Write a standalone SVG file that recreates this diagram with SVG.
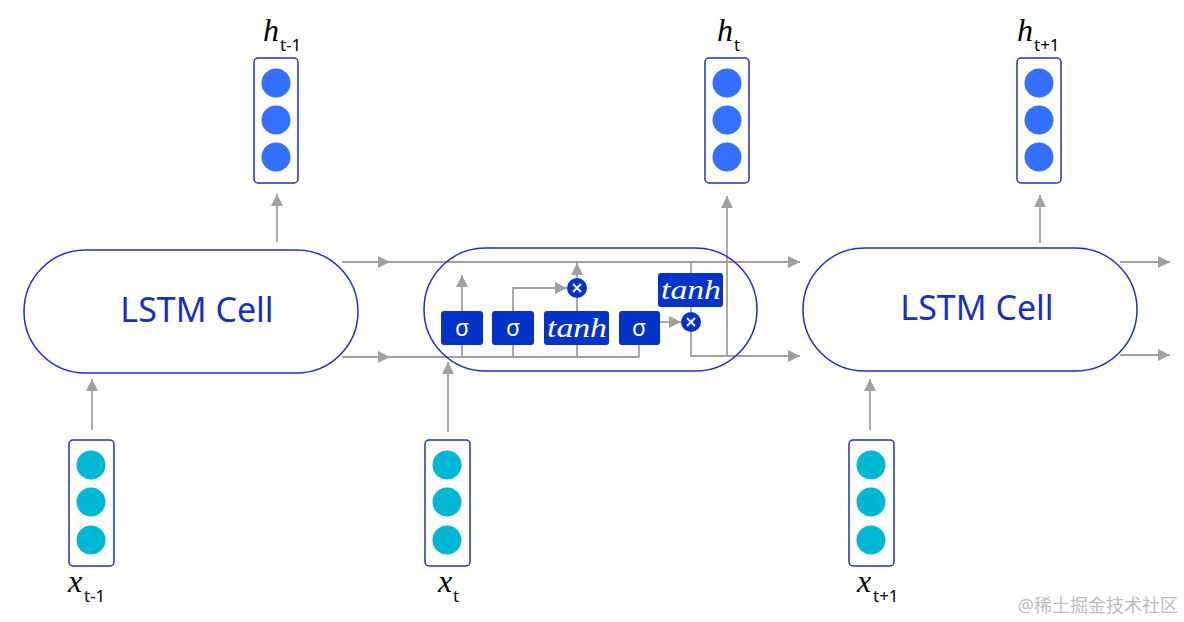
<svg xmlns="http://www.w3.org/2000/svg" width="1184" height="622" viewBox="0 0 1184 622">
<defs>
<marker id="ah" viewBox="0 0 12 12" refX="12" refY="6" markerWidth="12" markerHeight="12" markerUnits="userSpaceOnUse" orient="auto">
<path d="M0,0 L12,6 L0,12 Z" fill="#a0a0a0"/>
</marker>
<style>
.cell{fill:#fff;stroke:#1f2fc4;stroke-width:1.5}
.vec{fill:#fff;stroke:#1f2fc4;stroke-width:1.5}
.hc{fill:#3370ff}
.xc{fill:#00b8d4}
.ln{fill:none;stroke:#a0a0a0;stroke-width:1.8}
.gate{fill:#0433c9}
.sig{font-family:"Noto Sans","DejaVu Sans",sans-serif;font-size:23px;fill:#fff;text-anchor:middle}
.tanh{font-family:"Liberation Serif","DejaVu Serif",serif;font-style:italic;font-size:28px;fill:#fff;text-anchor:middle}
.ct{font-family:"Noto Sans","Open Sans",sans-serif;font-size:34px;fill:#1a2fc0;text-anchor:middle}
.var{font-family:"Liberation Serif","DejaVu Serif",serif;font-style:italic;font-size:32px;fill:#000}
.sub{font-family:"Noto Sans","Open Sans",sans-serif;font-size:17px;fill:#000}
.mul{fill:#0433c9}
.mx{stroke:#fff;stroke-width:1.8}
</style>
</defs>

<g id="connectors">
<path class="ln" d="M342,262 L390,262" marker-end="url(#ah)"/>
<path class="ln" d="M388,262 L800,262" marker-end="url(#ah)"/>
<path class="ln" d="M342,357 L390,357" marker-end="url(#ah)"/>
<path class="ln" d="M388,357 L639,357"/>
<path class="ln" d="M462,357 L462,345 M513,357 L513,345 M577,357 L577,345 M639,357 L639,345"/>
<path class="ln" d="M462,311 L462,275" marker-end="url(#ah)"/>
<path class="ln" d="M513,311 L513,288 L567,288" marker-end="url(#ah)"/>
<path class="ln" d="M577,311 L577,298"/>
<path class="ln" d="M577,278 L577,263" marker-end="url(#ah)"/>
<path class="ln" d="M660,322 L681,322" marker-end="url(#ah)"/>
<path class="ln" d="M691,262 L691,273"/>
<path class="ln" d="M691,307 L691,312"/>
<path class="ln" d="M691,332 L691,356 L800,356" marker-end="url(#ah)"/>
<path class="ln" d="M727,356 L727,196" marker-end="url(#ah)"/>
<path class="ln" d="M448,432 L448,362" marker-end="url(#ah)"/>
<path class="ln" d="M92,430 L92,379" marker-end="url(#ah)"/>
<path class="ln" d="M870,430 L870,379" marker-end="url(#ah)"/>
<path class="ln" d="M277,242 L277,194" marker-end="url(#ah)"/>
<path class="ln" d="M1040,243 L1040,195" marker-end="url(#ah)"/>
<path class="ln" d="M1120,262 L1170,262" marker-end="url(#ah)"/>
<path class="ln" d="M1120,355 L1170,355" marker-end="url(#ah)"/>
</g>

<g id="cell-left">
<rect class="cell" x="24" y="250" width="334" height="123" rx="61.5"/>
<text class="ct" x="197" y="322">LSTM Cell</text>
</g>

<g id="cell-mid">
<rect class="cell" x="424" y="248" width="333" height="123" rx="61.5" style="fill:none"/>
<g id="gate-sig1"><rect class="gate" x="441" y="311" width="42" height="34" rx="3"/><text class="sig" x="462" y="336">σ</text></g>
<g id="gate-sig2"><rect class="gate" x="492" y="311" width="42" height="34" rx="3"/><text class="sig" x="513" y="336">σ</text></g>
<g id="gate-tanh1"><rect class="gate" x="544" y="311" width="65" height="34" rx="3"/><text class="tanh" x="577" y="337" textLength="60" lengthAdjust="spacingAndGlyphs">tanh</text></g>
<g id="gate-sig3"><rect class="gate" x="619" y="311" width="41" height="34" rx="3"/><text class="sig" x="639" y="336">σ</text></g>
<g id="gate-tanh2"><rect class="gate" x="658" y="273" width="65" height="34" rx="3"/><text class="tanh" x="691" y="299" textLength="60" lengthAdjust="spacingAndGlyphs">tanh</text></g>
<g id="mul1"><circle class="mul" cx="577" cy="288" r="10"/><path class="mx" d="M573,284 L581,292 M581,284 L573,292"/></g>
<g id="mul2"><circle class="mul" cx="691" cy="322" r="10"/><path class="mx" d="M687,318 L695,326 M695,318 L687,326"/></g>
</g>

<g id="cell-right">
<rect class="cell" x="803" y="248" width="334" height="123" rx="61.5"/>
<text class="ct" x="977" y="320">LSTM Cell</text>
</g>

<g id="h-prev">
<rect class="vec" x="254" y="58" width="44" height="125" rx="4"/>
<circle class="hc" cx="276" cy="83" r="14.5"/><circle class="hc" cx="276" cy="120" r="14.5"/><circle class="hc" cx="276" cy="157" r="14.5"/>
<text class="var" x="263" y="41">h</text><text class="sub" x="280" y="51">t-1</text>
</g>
<g id="h-cur">
<rect class="vec" x="705" y="58" width="44" height="125" rx="4"/>
<circle class="hc" cx="727" cy="83" r="14.5"/><circle class="hc" cx="727" cy="120" r="14.5"/><circle class="hc" cx="727" cy="157" r="14.5"/>
<text class="var" x="717" y="41">h</text><text class="sub" x="734" y="51">t</text>
</g>
<g id="h-next">
<rect class="vec" x="1017" y="58" width="44" height="125" rx="4"/>
<circle class="hc" cx="1039" cy="83" r="14.5"/><circle class="hc" cx="1039" cy="120" r="14.5"/><circle class="hc" cx="1039" cy="157" r="14.5"/>
<text class="var" x="1017" y="41">h</text><text class="sub" x="1034" y="51">t+1</text>
</g>

<g id="x-prev">
<rect class="vec" x="69" y="440" width="45" height="126" rx="4"/>
<circle class="xc" cx="91" cy="465" r="14.5"/><circle class="xc" cx="91" cy="502" r="14.5"/><circle class="xc" cx="91" cy="540" r="14.5"/>
<text class="var" x="68" y="592">x</text><text class="sub" x="84" y="602">t-1</text>
</g>
<g id="x-cur">
<rect class="vec" x="425" y="440" width="45" height="126" rx="4"/>
<circle class="xc" cx="447" cy="465" r="14.5"/><circle class="xc" cx="447" cy="502" r="14.5"/><circle class="xc" cx="447" cy="540" r="14.5"/>
<text class="var" x="438" y="592">x</text><text class="sub" x="453" y="602">t</text>
</g>
<g id="x-next">
<rect class="vec" x="849" y="440" width="45" height="126" rx="4"/>
<circle class="xc" cx="871" cy="465" r="14.5"/><circle class="xc" cx="871" cy="502" r="14.5"/><circle class="xc" cx="871" cy="540" r="14.5"/>
<text class="var" x="857" y="592">x</text><text class="sub" x="873" y="602">t+1</text>
</g>

<text x="1178" y="612" text-anchor="end" style="font-family:'Noto Sans','Noto Sans CJK SC',sans-serif;font-size:18px;fill:#bdbdbd">@稀土掘金技术社区</text>
</svg>
